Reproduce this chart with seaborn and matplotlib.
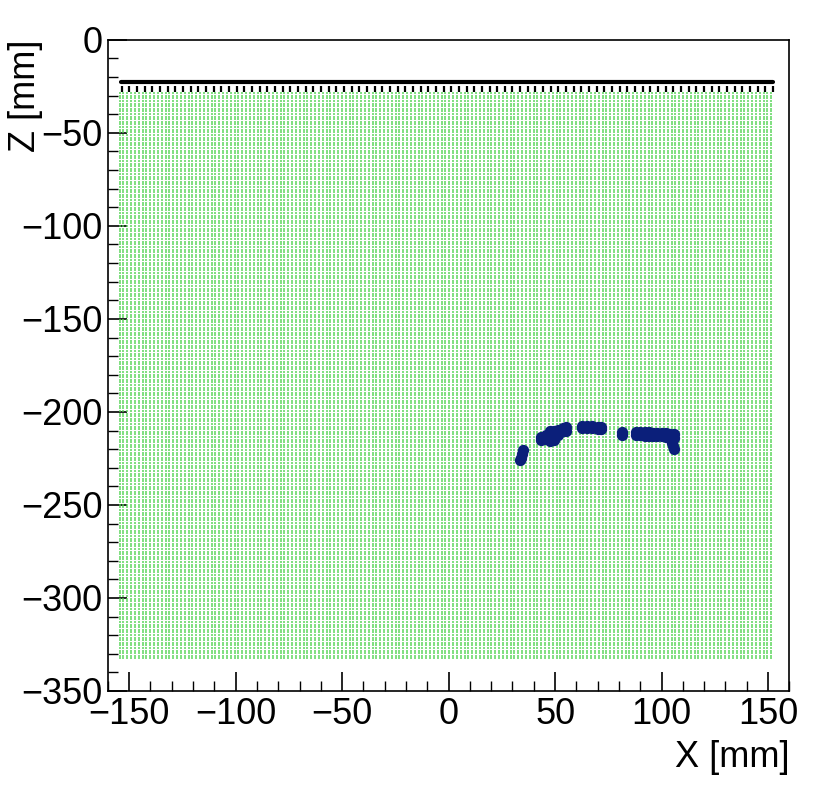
import numpy as np
import pandas as pd
import matplotlib
matplotlib.use("Agg")
import matplotlib.pyplot as plt
from matplotlib.ticker import MultipleLocator
import seaborn as sns

# ---- data ----
# pixel plane geometry
grid_x_min, grid_x_max, grid_x_pitch = -154.5, 152.5, 1.8
grid_z_min, grid_z_max, grid_z_pitch = -332.5, -28.5, 1.4
plate_z = -22.6          # solid black plate line
plate_x = [-154.0, 152.5]
dots_z = -26.3           # dotted black row

# reconstructed track hits (x, z) in mm
track_x = [35.0, 34.3, 33.8, 33.5,
           43.5, 43.5, 45.5, 45.5, 47.5, 47.5, 47.5, 49.5, 49.5, 49.5, 51.5, 51.5, 53.5, 53.5, 55, 55,
           62.5, 62.5, 65, 65, 67.5, 67.5, 70, 70, 71.5, 71.5,
           81.2, 81.2,
           88, 88, 90, 90, 92, 92, 94, 94, 96, 96, 98, 98, 100, 100, 102, 102, 104, 104,
           106, 106, 105, 105.5, 105.8]
track_z = [-220.5, -222.5, -224.5, -226,
           -213.5, -215, -212.5, -214.5, -210.5, -213, -215.5, -210, -212.5, -215, -209.5, -212.5,
           -208.5, -210.5, -208, -210,
           -207.8, -208.5, -207.8, -208.5, -207.8, -208.5, -208, -209, -208, -209,
           -211, -212.5,
           -211, -212.5, -211, -212.5, -211, -213, -211, -213, -211.5, -213, -211.5, -213, -211.5, -213,
           -211.5, -213.5, -212, -213.5, -212, -214, -216.5, -218.5, -219.8]

# ---- figure ----
sns.set_theme(style="ticks")
plt.rcParams['font.family'] = ['Liberation Sans', 'DejaVu Sans']
plt.rcParams['text.color'] = 'black'
plt.rcParams['axes.labelcolor'] = 'black'
plt.rcParams['xtick.color'] = 'black'
plt.rcParams['ytick.color'] = 'black'

fig = plt.figure(figsize=(8.30, 7.97), dpi=100)
ax = fig.add_axes([0.130, 0.133, 0.821, 0.817])

gx = np.arange(grid_x_min, grid_x_max + 1e-6, grid_x_pitch)
gz = np.arange(grid_z_min, grid_z_max + 1e-6, grid_z_pitch)
GX, GZ = np.meshgrid(gx, gz)
grid_df = pd.DataFrame({"x": GX.ravel(), "z": GZ.ravel()})
sns.scatterplot(data=grid_df, x="x", y="z", ax=ax, marker="s", s=1.1,
                color="#4fd24f", linewidth=0, alpha=0.7, legend=False, rasterized=True)

dots_df = pd.DataFrame({"x": gx[::2] + 0.9, "z": np.full_like(gx[::2], dots_z)})
sns.scatterplot(data=dots_df, x="x", y="z", ax=ax, marker="|", s=20,
                color="black", linewidths=1.6, legend=False)

plate_df = pd.DataFrame({"x": plate_x, "z": [plate_z, plate_z]})
sns.lineplot(data=plate_df, x="x", y="z", ax=ax, color="black", linewidth=3.0,
             estimator=None, legend=False)

track_df = pd.DataFrame({"x": track_x, "z": track_z})
sns.scatterplot(data=track_df, x="x", y="z", ax=ax, marker="o", s=66,
                color="#0b1f7a", linewidth=0, legend=False)

ax.set_xlim(-160, 160)
ax.set_ylim(-350, 0)
ax.xaxis.set_major_locator(MultipleLocator(50))
ax.xaxis.set_minor_locator(MultipleLocator(10))
ax.yaxis.set_major_locator(MultipleLocator(50))
ax.yaxis.set_minor_locator(MultipleLocator(10))
ax.tick_params(which="major", direction="in", length=14, width=1.2, labelsize=26,
               top=False, right=False, pad=4)
ax.tick_params(which="minor", direction="in", length=7, width=1.0, top=False, right=False)
for sp in ax.spines.values():
    sp.set_linewidth(1.2)
    sp.set_color("black")

ax.set_xlabel("X [mm]", fontsize=26, loc="right")
ax.set_ylabel("Z [mm]", fontsize=26, loc="top")
ax.xaxis.set_label_coords(1.0, -0.075)
ax.yaxis.set_label_coords(-0.095, 1.0)

fig.savefig("out.png", dpi=100)
